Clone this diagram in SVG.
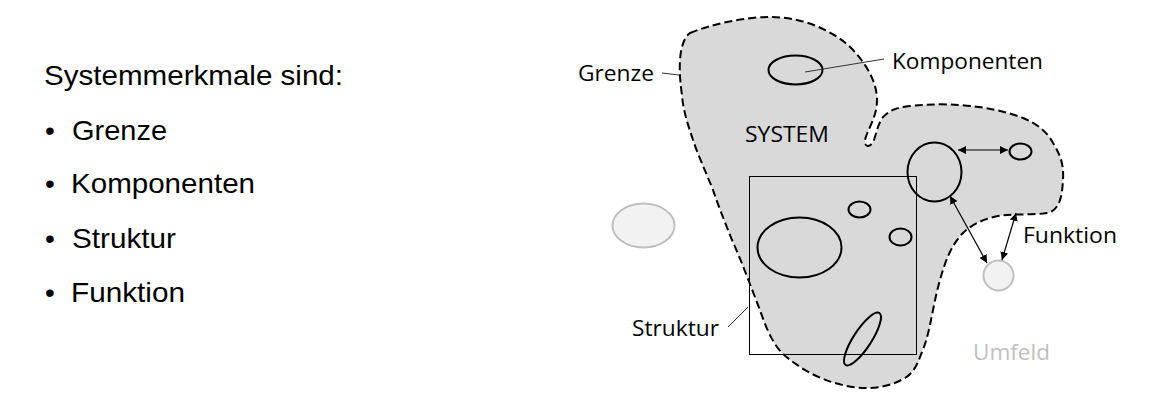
<svg xmlns="http://www.w3.org/2000/svg" width="1167" height="401" viewBox="0 0 1167 401">
<style>
.lt{font-family:"Liberation Sans",Arial,sans-serif;font-size:28px;fill:#000}
.ct{font-family:"Open Sans","Liberation Sans",sans-serif;font-size:22px;fill:#000}
.comp{fill:none;stroke:#000;stroke-width:2}
.env{fill:#f2f2f2;stroke:#bfbfbf;stroke-width:2}
.lead{fill:none;stroke:#333;stroke-width:1}
.arr{fill:none;stroke:#000;stroke-width:1.2;marker-start:url(#ah);marker-end:url(#ah)}
</style>
<defs>
<marker id="ah" viewBox="0 0 10 10" refX="10" refY="5" markerWidth="8" markerHeight="8" markerUnits="userSpaceOnUse" orient="auto-start-reverse">
<path d="M0,0 L10,5 L0,10 Z" fill="#000"/>
</marker>
</defs>
<rect width="1167" height="401" fill="#fff"/>
<g id="list">
<text class="lt" x="44" y="85" textLength="299" lengthAdjust="spacingAndGlyphs">Systemmerkmale sind:</text>
<text class="lt" x="45" y="140">•</text>
<text class="lt" x="72" y="140" textLength="95" lengthAdjust="spacingAndGlyphs">Grenze</text>
<text class="lt" x="45" y="193">•</text>
<text class="lt" x="71" y="193" textLength="184" lengthAdjust="spacingAndGlyphs">Komponenten</text>
<text class="lt" x="45" y="248">•</text>
<text class="lt" x="72" y="248" textLength="104" lengthAdjust="spacingAndGlyphs">Struktur</text>
<text class="lt" x="45" y="302">•</text>
<text class="lt" x="71" y="302" textLength="114" lengthAdjust="spacingAndGlyphs">Funktion</text>
</g>
<g id="system">
<path d="M690,33 C712,24 745,17 770,17 C800,17 828,28 848,45 C866,62 877,82 877,100 C877,118 867,130 865,140 C864,147 870,149 874,140 C877,131 878,124 883,117 C890,110 898,107 910,106 C930,104 945,104 960,105 C985,107 1005,111 1023,118 C1038,124 1048,133 1053,143 C1060,155 1064,163 1063,180 C1062,200 1058,211 1047,213 C1035,215 1020,214 1007,215 C990,216 973,223 963,233 C953,243 947,257 943,270 C938,285 935,300 932,315 C929,330 927,340 922,352 C918,362 915,372 905,378 C893,385 880,388 867,388 C845,388 820,380 800,367 C790,360 783,355 777,347 C770,337 765,325 760,310 C752,290 742,262 732,240 C724,220 718,205 713,190 C705,170 698,155 693,140 C688,125 683,110 682,95 C679,75 679,58 682,47 C684,40 686,36 690,33 Z" fill="#d9d9d9" stroke="#000" stroke-width="2" stroke-dasharray="8 4"/>
<text class="ct" x="745" y="142" textLength="84" lengthAdjust="spacingAndGlyphs">SYSTEM</text>
</g>
<g id="struktur">
<rect x="749.5" y="176.5" width="167" height="178" fill="none" stroke="#000" stroke-width="1"/>
</g>
<g id="komponenten">
<ellipse class="comp" cx="795.5" cy="70" rx="27" ry="14.5"/>
<ellipse class="comp" cx="934.5" cy="172" rx="27" ry="29.5"/>
<ellipse class="comp" cx="1020.5" cy="151.5" rx="11" ry="8"/>
<ellipse class="comp" cx="799.5" cy="247.5" rx="42" ry="30"/>
<ellipse class="comp" cx="859.5" cy="209.5" rx="11" ry="8"/>
<ellipse class="comp" cx="900.5" cy="237" rx="11" ry="8.5"/>
<ellipse class="comp" cx="862.5" cy="339" rx="31" ry="9" transform="rotate(-57 862.5 339)" stroke-width="1.6"/>
</g>
<g id="umfeld">
<ellipse class="env" cx="643.5" cy="225.5" rx="31" ry="22"/>
<circle class="env" cx="998.5" cy="275.5" r="15"/>
<text x="973" y="360" font-family="'Open Sans','Liberation Sans',sans-serif" font-size="22" fill="#bfbfbf" textLength="77" lengthAdjust="spacingAndGlyphs">Umfeld</text>
</g>
<g id="connectors">
<line class="arr" x1="958" y1="150" x2="1008" y2="150"/>
<line class="arr" x1="950" y1="196" x2="987" y2="263"/>
<line class="arr" x1="1016" y1="213" x2="1002" y2="260"/>
<line class="lead" x1="805" y1="72" x2="884" y2="59"/>
<line class="lead" x1="662" y1="73" x2="679" y2="75"/>
<line class="lead" x1="728" y1="327" x2="748" y2="307"/>
</g>
<g id="labels">
<text class="ct" x="578" y="81" textLength="76" lengthAdjust="spacingAndGlyphs">Grenze</text>
<text class="ct" x="892" y="69" textLength="151" lengthAdjust="spacingAndGlyphs">Komponenten</text>
<text class="ct" x="1023" y="243" textLength="94" lengthAdjust="spacingAndGlyphs">Funktion</text>
<text class="ct" x="632" y="336" textLength="87" lengthAdjust="spacingAndGlyphs">Struktur</text>
</g>
</svg>
